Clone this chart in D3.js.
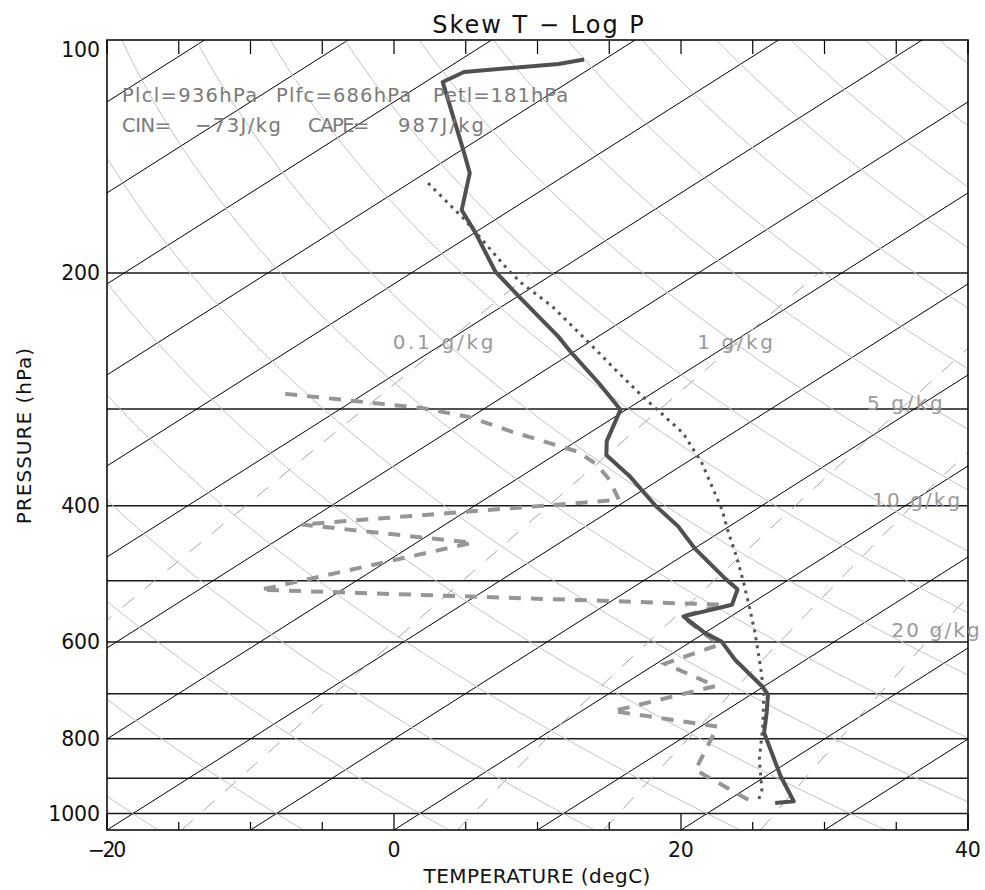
<!DOCTYPE html>
<html>
<head>
<meta charset="utf-8">
<script src="https://cdn.jsdelivr.net/npm/d3@7"></script>
<style>
  body { margin: 0; background: #fff; }
  text { font-family: "DejaVu Sans", sans-serif; }
</style>
</head>
<body>
<div id="chart"></div>
<script>
// sounding (pressure hPa, degC)
const tempP = [106, 107.4, 110, 113.3, 138.7, 148.6, 165.9, 177.3, 199.2, 214.6, 241.6, 254, 277.8, 300.5,
               330, 344, 366, 400, 425, 454, 498, 513, 537, 556, 584, 599, 633, 685, 702, 741, 786, 894, 964, 969];
const tempT = [-71.4, -72.7, -78.4, -78.8, -69.9, -66.9, -63.4, -60.0, -54.3, -49.9, -42.8, -40.0, -34.8, -30.4,
               -27.9, -26.4, -22.5, -17.4, -13.6, -10.0, -4.4, -2.5, -1.2, -3.3, 0.0, 2.1, 5.1, 9.9, 11.2, 13.1, 15.1, 21.0, 24.7, 23.6];

const dewP = [286.7, 298.9, 307, 321, 340.7, 354, 370, 393, 423, 446.6, 513.6, 537, 556, 584, 605, 640, 684, 737, 772, 878, 965];
const dewT = [-55.5, -44.5, -40.2, -35.5, -28.7, -26.0, -23.5, -20.6, -40.0, -26.1, -35.7, -1.8, -3.4, -0.1, 2.3, 0.6, 6.6, 2.2, 11.2, 14.4, 21.8];

const parcelP = [153.1, 170.8, 198.2, 206.2, 221, 244, 267, 289, 322, 352, 405, 434, 465, 503, 545, 584, 645, 698, 771, 851, 931, 960];
const parcelT = [-68.7, -62.1, -53.6, -51.2, -46.5, -40.5, -35.1, -30.3, -23.5, -18.9, -12.3, -9.3, -6.2, -2.8, 0.6, 3.5, 7.55, 10.7, 14.3, 17.7, 21.2, 22.1];

// background diagram
const xTickLabels = [-20, 0, 20, 40];
const xTicks = d3.range(-20, 41, 5);
const yTickLabels = [100, 200, 400, 600, 800, 1000];
const isobars = d3.range(200, 1001, 100);
const isotherms = d3.range(-110, 41, 10);
const dryAdiabats = d3.range(-40, 171, 10);   // theta in degC
const mixRatios = [0.1, 1, 5, 10, 20];         // g/kg
const mixLabelP = [250, 250, 300, 400, 590];
const mixLabels = ["0.1 g/kg", "1 g/kg", "5 g/kg", "10 g/kg", "20 g/kg"];

const statsRow1 = ["Plcl=936hPa", "Plfc=686hPa", "Petl=181hPa"];
const statsRow2 = ["CIN=", "\u221273J/kg", "CAPE=", "987J/kg"];

const width = 985, height = 890;
const plot = {left: 107, right: 968, top: 40, bottom: 830};
const pBottom = 1050, pTop = 100;
const skew = 85; // degC shift per decade of pressure

const svg = d3.select("#chart").append("svg")
    .attr("width", width).attr("height", height)
    .attr("viewBox", `0 0 ${width} ${height}`);

const x = d3.scaleLinear().domain([-20, 40]).range([plot.left, plot.right]);
const y = d3.scaleLog().domain([pTop, pBottom]).range([plot.top, plot.bottom]);
const sx = (t, p) => x(t + skew * Math.log10(pBottom / p));

const skewLine = d3.line().x(d => sx(d.t, d.p)).y(d => y(d.p));

svg.append("defs").append("clipPath").attr("id", "clip")
   .append("rect")
   .attr("x", plot.left).attr("y", plot.top)
   .attr("width", plot.right - plot.left).attr("height", plot.bottom - plot.top);

const inner = svg.append("g").attr("clip-path", "url(#clip)");

// pressure levels from bottom to top, used to draw the curved guide lines
const levels = (pLow, pHigh) => d3.range(0, 61).map(i => pLow * Math.pow(pHigh / pLow, i / 60));

// isobars
inner.selectAll(".isobar").data(isobars).join("line")
    .attr("x1", plot.left).attr("x2", plot.right)
    .attr("y1", d => y(d)).attr("y2", d => y(d))
    .attr("stroke", "#1a1a1a").attr("stroke-width", 1.5);

// isotherms
inner.selectAll(".isotherm").data(isotherms).join("path")
    .attr("d", t => skewLine([{t: t, p: pBottom}, {t: t, p: pTop}]))
    .attr("fill", "none").attr("stroke", "#000").attr("stroke-width", 1);

// dry adiabats
inner.selectAll(".dry").data(dryAdiabats).join("path")
    .attr("d", th => skewLine(levels(pBottom, pTop).map(p => ({
        p: p, t: (th + 273.15) * Math.pow(p / 1000, 0.2857) - 273.15}))))
    .attr("fill", "none").attr("stroke", "#c4c4c4").attr("stroke-width", 1);

// saturation mixing ratio -> dew/frost point
const dewFromMix = (w, p) => {
    const e = w * p / (622 + w);
    const l = Math.log(e / 6.112);
    return l >= 0 ? 243.5 * l / (17.67 - l) : 272.62 * l / (22.46 - l);
};

inner.selectAll(".mix").data(mixRatios).join("path")
    .attr("d", w => skewLine(levels(pBottom, 200).map(p => ({p: p, t: dewFromMix(w, p)}))))
    .attr("fill", "none").attr("stroke", "#a6a6a6").attr("stroke-width", 1)
    .attr("stroke-dasharray", "15,14");

// sounding curves
const toPts = (P, T) => P.map((p, i) => ({p: p, t: T[i]}));

inner.append("path")
    .attr("d", skewLine(toPts(dewP, dewT)))
    .attr("fill", "none").attr("stroke", "#969696").attr("stroke-width", 4)
    .attr("stroke-dasharray", "12,10");

inner.append("path")
    .attr("d", skewLine(toPts(parcelP, parcelT)))
    .attr("fill", "none").attr("stroke", "#555").attr("stroke-width", 3)
    .attr("stroke-dasharray", "3,5");

inner.append("path")
    .attr("d", skewLine(toPts(tempP, tempT)))
    .attr("fill", "none").attr("stroke", "#505050").attr("stroke-width", 4)
    .attr("stroke-linejoin", "round");

// frame and ticks
svg.append("rect")
    .attr("x", plot.left).attr("y", plot.top)
    .attr("width", plot.right - plot.left).attr("height", plot.bottom - plot.top)
    .attr("fill", "none").attr("stroke", "#000").attr("stroke-width", 1.5);

svg.selectAll(".ttick").data(xTicks).join("line")
    .attr("x1", d => x(d)).attr("x2", d => x(d))
    .attr("y1", plot.top).attr("y2", plot.top + 14)
    .attr("stroke", "#000").attr("stroke-width", 1.2);

svg.selectAll(".btick").data(xTicks).join("line")
    .attr("x1", d => x(d)).attr("x2", d => x(d))
    .attr("y1", plot.bottom).attr("y2", d => plot.bottom - (d % 20 === 0 ? 16 : 8))
    .attr("stroke", "#000").attr("stroke-width", 1.2);

// text with a fixed pitch, like the plotting font of the original
const pitch = 0.63;
function addText(str, xPos, yPos, fs, anchor, color) {
    return svg.append("text")
        .attr("x", xPos).attr("y", yPos)
        .attr("font-size", fs)
        .attr("text-anchor", anchor)
        .attr("fill", color)
        .attr("textLength", str.length * pitch * fs)
        .attr("lengthAdjust", "spacing")
        .text(str);
}

xTickLabels.forEach(t => addText(t < 0 ? "\u2212" + Math.abs(t) : String(t), x(t), 857, 20.5, "middle", "#111"));
yTickLabels.forEach(p => addText(String(p), 100, Math.max(y(p), plot.top + 10) + 7, 20.5, "end", "#111"));

addText("Skew T \u2212 Log P", 538, 33, 24, "middle", "#111");
addText("TEMPERATURE (degC)", 537, 883, 20, "middle", "#111");
addText("PRESSURE (hPa)", 0, 0, 20, "middle", "#111")
    .attr("transform", "translate(31,436) rotate(-90)");

// mixing ratio labels
mixRatios.forEach((w, i) => {
    const p = mixLabelP[i];
    addText(mixLabels[i], sx(dewFromMix(w, p), p) + 4, y(p) + 1, 20, "middle", "#9a9a9a");
});

// parcel statistics
[122, 276, 433].forEach((xp, i) => addText(statsRow1[i], xp, 102, 19.5, "start", "#7a7a7a"));
[122, 195, 308, 398].forEach((xp, i) => addText(statsRow2[i], xp, 132, 19.5, "start", "#7a7a7a"));
</script>
</body>
</html>
